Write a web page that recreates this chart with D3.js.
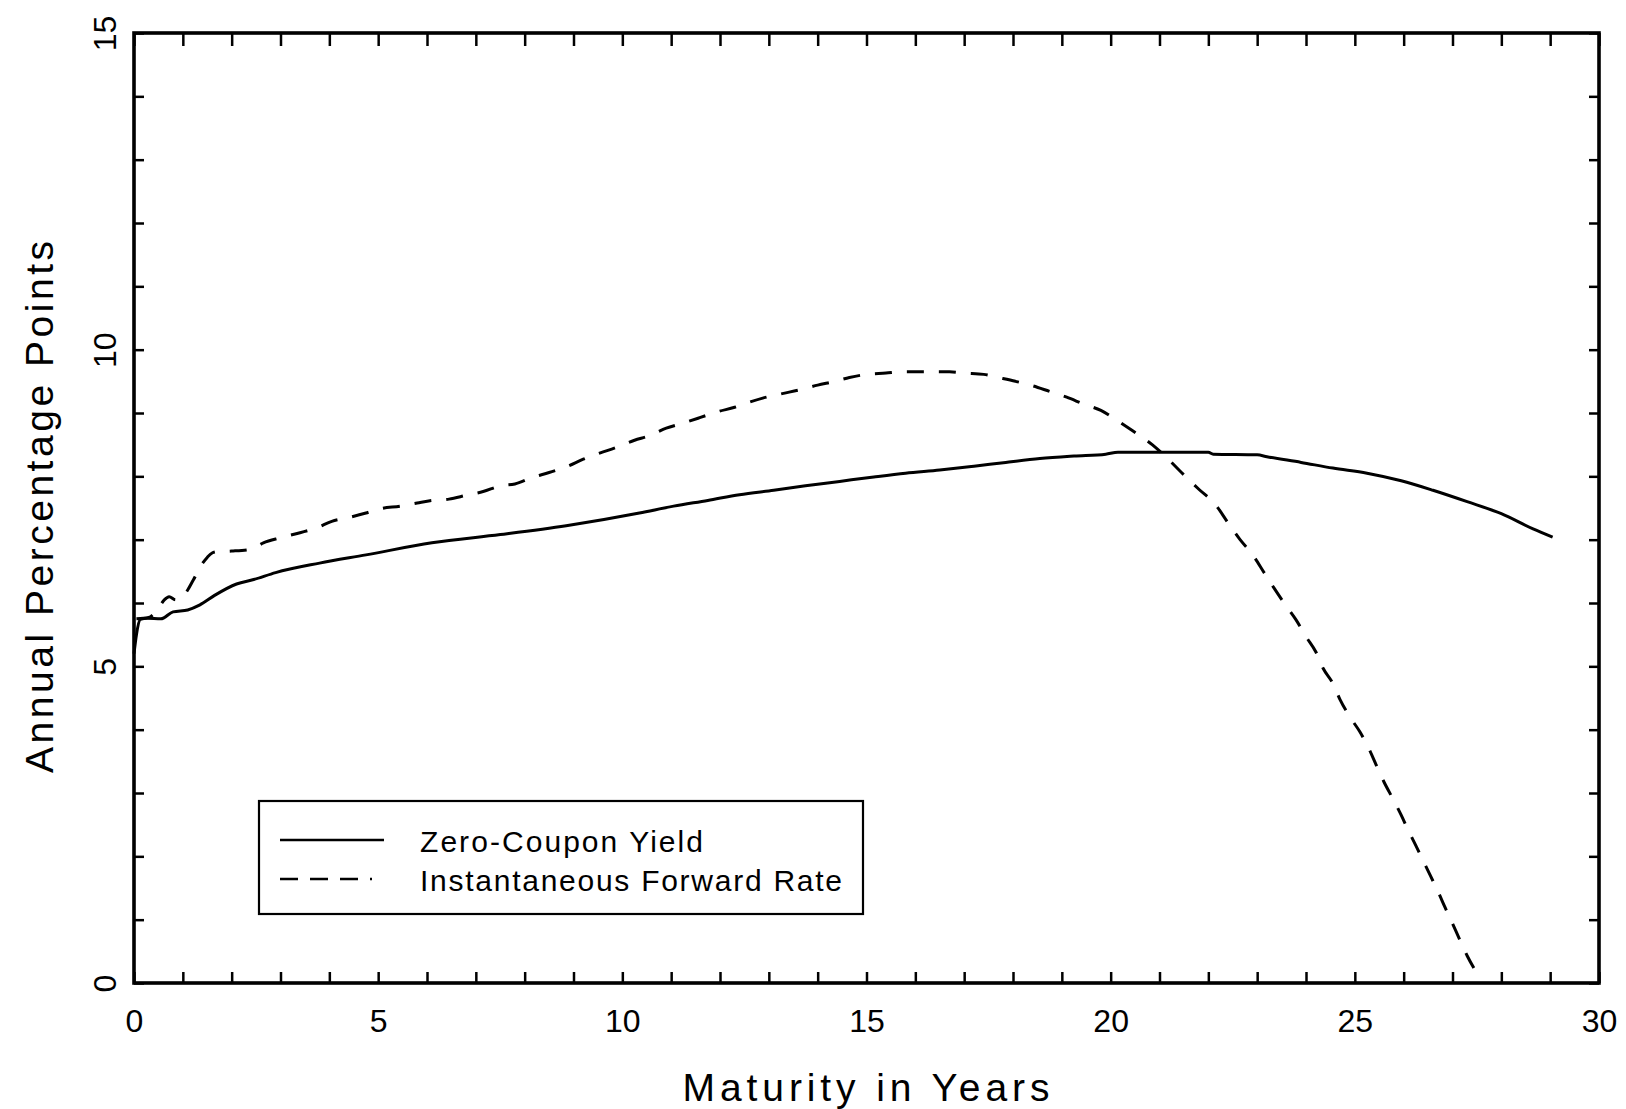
<!DOCTYPE html>
<html>
<head>
<meta charset="utf-8">
<script src="https://cdn.jsdelivr.net/npm/d3@7"></script>
<style>
  html, body { margin: 0; padding: 0; background: #ffffff; }
  svg { display: block; }
</style>
</head>
<body>
<svg id="chart" width="1626" height="1109"></svg>
<script>
// ---------------- data ----------------
const zeroMaturity = [0, 0.05, 0.13, 0.27, 0.55, 0.8, 1.1, 1.35, 1.65, 2.1, 2.45, 2.9, 3.8, 4.75,
  6.1, 7.5, 8.85, 10.35, 11.05, 11.75, 12.4, 13.1, 13.75, 14.45, 15.15, 15.8, 16.5, 17.2, 17.85,
  18.55, 19.25, 19.9, 20.15, 21.0, 22.0, 22.1, 23.0, 23.2, 23.9, 24.55, 25.25, 25.95, 26.6, 27.3,
  28.0, 28.65, 29.05];
const zeroYield = [5.2, 5.5, 5.74, 5.76, 5.75, 5.86, 5.89, 5.97, 6.12, 6.3, 6.37, 6.48, 6.63, 6.76,
  6.95, 7.08, 7.22, 7.42, 7.53, 7.62, 7.71, 7.78, 7.85, 7.92, 7.99, 8.05, 8.1, 8.16, 8.22,
  8.28, 8.32, 8.35, 8.38, 8.38, 8.38, 8.35, 8.34, 8.31, 8.22, 8.13, 8.05, 7.93, 7.78, 7.6,
  7.41, 7.17, 7.04];

const fwdMaturity = [0.05, 0.3, 0.5, 0.62, 0.72, 0.85, 1.05, 1.22, 1.38, 1.5, 1.6, 1.7, 2.0, 2.4,
  2.65, 3.0, 3.4, 3.75, 4.05, 4.4, 4.75, 5.05, 5.45, 5.8, 6.1, 6.45, 6.8, 7.15, 7.5, 7.8, 8.15,
  8.5, 8.85, 9.2, 9.55, 9.85, 10.25, 10.55, 10.9, 11.2, 11.6, 11.95, 12.3, 12.6, 12.95, 13.3,
  13.65, 14.0, 14.35, 14.65, 15.0, 15.4, 15.7, 16.0, 16.35, 16.7, 17.0, 17.4, 17.7, 18.05, 18.4,
  18.75, 19.1, 19.45, 19.8, 20.1, 20.45, 20.85, 21.1, 21.45, 21.8, 22.15, 22.4, 22.65, 22.9,
  23.15, 23.35, 23.55, 23.8, 24.0, 24.2, 24.35, 24.55, 24.7, 24.9, 25.1, 25.3, 25.45, 25.6,
  25.8, 25.95, 26.1, 26.25, 26.4, 26.55, 26.7, 26.85, 27.0, 27.15, 27.3, 27.48];
const fwdRate = [5.75, 5.77, 5.92, 6.05, 6.1, 6.05, 6.15, 6.37, 6.6, 6.72, 6.79, 6.81, 6.82, 6.85,
  6.95, 7.03, 7.11, 7.19, 7.29, 7.35, 7.42, 7.49, 7.53, 7.58, 7.62, 7.64, 7.7, 7.76, 7.85, 7.88, 7.98,
  8.06, 8.15, 8.27, 8.37, 8.45, 8.57, 8.64, 8.76, 8.83, 8.93, 9.02, 9.09, 9.17, 9.25, 9.31,
  9.37, 9.44, 9.5, 9.56, 9.61, 9.63, 9.65, 9.65, 9.65, 9.65, 9.63, 9.61, 9.56, 9.5, 9.43,
  9.34, 9.25, 9.14, 9.04, 8.9, 8.72, 8.5, 8.33, 8.06, 7.8, 7.55, 7.27, 7.0, 6.77,
  6.47, 6.23, 6.0, 5.73, 5.47, 5.23, 4.97, 4.73, 4.47, 4.2, 3.97, 3.68, 3.42, 3.17,
  2.88, 2.65, 2.4, 2.17, 1.93, 1.69, 1.45, 1.19, 0.94, 0.68, 0.43, 0.18];

const xTickLabels = [0, 5, 10, 15, 20, 25, 30];
const yTickLabels = [0, 5, 10, 15];
const xMinorTicks = d3.range(0, 31, 1);
const yMinorTicks = d3.range(0, 16, 1);
const xTitle = "Maturity in Years";
const yTitle = "Annual Percentage Points";
const seriesNames = ["Zero-Coupon Yield", "Instantaneous Forward Rate"];

// ---------------- layout ----------------
const svg = d3.select("#chart");
const W = 1626, H = 1109;
const P = { left: 134, right: 1599, top: 33, bottom: 983 };
const FONT = "'Liberation Sans', Arial, sans-serif";
const INK = "#000";

svg.append("rect").attr("width", W).attr("height", H).attr("fill", "#fff");

const x = d3.scaleLinear().domain([0, 30]).range([P.left, P.right]);
const y = d3.scaleLinear().domain([0, 15]).range([P.bottom, P.top]);

function styleTicks(g, w) {
  g.select(".domain").remove();
  g.selectAll(".tick line").attr("stroke", INK).attr("stroke-width", w);
  g.selectAll(".tick text").remove();
}

// minor ticks, all four sides
svg.append("g").attr("transform", `translate(0,${P.bottom})`)
  .call(d3.axisTop(x).tickValues(xMinorTicks).tickSize(11).tickFormat(""))
  .call(g => styleTicks(g, 2.5));
svg.append("g").attr("transform", `translate(0,${P.top})`)
  .call(d3.axisBottom(x).tickValues(xMinorTicks).tickSize(13).tickFormat(""))
  .call(g => styleTicks(g, 2.5));
svg.append("g").attr("transform", `translate(${P.left},0)`)
  .call(d3.axisRight(y).tickValues(yMinorTicks).tickSize(10).tickFormat(""))
  .call(g => styleTicks(g, 2.5));
svg.append("g").attr("transform", `translate(${P.right},0)`)
  .call(d3.axisLeft(y).tickValues(yMinorTicks).tickSize(10).tickFormat(""))
  .call(g => styleTicks(g, 2.5));

// frame
svg.append("rect")
  .attr("x", P.left).attr("y", P.top)
  .attr("width", P.right - P.left).attr("height", P.bottom - P.top)
  .attr("fill", "none").attr("stroke", INK).attr("stroke-width", 3.6);

// x tick labels
const xLab = svg.append("g").attr("transform", `translate(0,${P.bottom})`)
  .call(d3.axisBottom(x).tickValues(xTickLabels).tickSize(0).tickPadding(26).tickFormat(d3.format("d")));
xLab.select(".domain").remove();
xLab.selectAll("text").attr("font-family", FONT).attr("font-size", 32).attr("fill", INK);

// y tick labels (rotated)
const yLab = svg.append("g").attr("transform", `translate(104,0)`)
  .call(d3.axisLeft(y).tickValues(yTickLabels).tickSize(0).tickFormat(d3.format("d")));
yLab.select(".domain").remove();
yLab.selectAll("text")
  .attr("x", 0).attr("y", 0).attr("dy", "0.36em")
  .attr("text-anchor", "middle")
  .attr("transform", "rotate(-90)")
  .attr("font-family", FONT).attr("font-size", 32).attr("fill", INK);

// axis titles
svg.append("text")
  .attr("x", 866).attr("y", 1087).attr("dy", "0.36em")
  .attr("text-anchor", "middle")
  .attr("font-family", FONT).attr("font-size", 39).attr("fill", INK)
  .attr("textLength", 367).attr("lengthAdjust", "spacing")
  .text(xTitle);
svg.append("text")
  .attr("transform", "translate(39,507) rotate(-90)")
  .attr("text-anchor", "middle").attr("dy", "0.36em")
  .attr("font-family", FONT).attr("font-size", 39).attr("fill", INK)
  .attr("textLength", 532).attr("lengthAdjust", "spacing")
  .text(yTitle);

// ---------------- series ----------------
const zeroData = zeroMaturity.map((t, i) => [t, zeroYield[i]]);
const fwdData = fwdMaturity.map((t, i) => [t, fwdRate[i]]);
const line = d3.line().x(d => x(d[0])).y(d => y(d[1])).curve(d3.curveMonotoneX);

svg.append("path").datum(zeroData)
  .attr("d", line).attr("fill", "none").attr("stroke", INK)
  .attr("stroke-width", 3).attr("stroke-linejoin", "round");
svg.append("path").datum(fwdData)
  .attr("d", line).attr("fill", "none").attr("stroke", INK)
  .attr("stroke-width", 3).attr("stroke-dasharray", "17,15");

// ---------------- legend ----------------
const leg = svg.append("g");
leg.append("rect").attr("x", 259).attr("y", 801).attr("width", 604).attr("height", 113)
  .attr("fill", "#fff").attr("stroke", INK).attr("stroke-width", 2.2);
const legRows = [
  { name: seriesNames[0], y: 840, dash: null, x2: 384 },
  { name: seriesNames[1], y: 879, dash: "18,12", x2: 372 }
];
legRows.forEach((r, i) => {
  leg.append("line").attr("x1", 280).attr("x2", r.x2).attr("y1", r.y).attr("y2", r.y)
    .attr("stroke", INK).attr("stroke-width", 2.5)
    .attr("stroke-dasharray", r.dash);
  leg.append("text").attr("x", 420).attr("y", r.y + 1).attr("dy", "0.36em")
    .attr("font-family", FONT).attr("font-size", 30).attr("fill", INK)
    .attr("textLength", i === 0 ? 283 : 422).attr("lengthAdjust", "spacing")
    .text(r.name);
});
</script>
</body>
</html>
